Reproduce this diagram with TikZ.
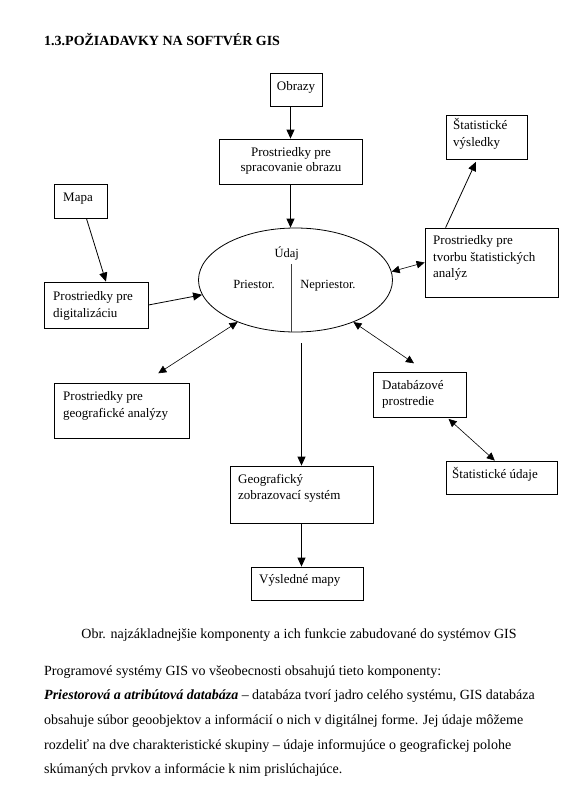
\documentclass[tikz,border=0pt]{standalone}
\usepackage{fontspec}
\setmainfont{Liberation Serif}
\usetikzlibrary{arrows.meta,calc,fit,shapes.geometric}
\begin{document}
\begin{tikzpicture}[x=1pt,y=-1pt,
  box/.style={draw, line width=0.8pt, inner sep=0pt, rectangle},
  lbl/.style={font=\fontsize{13}{16.5}\selectfont, inner sep=0pt, anchor=base west, align=left},
  elbl/.style={font=\fontsize{12.5}{15}\selectfont, inner sep=0pt, anchor=base},
  arr/.style={line width=0.8pt, -{Triangle[length=9pt,width=8pt]}},
  darr/.style={line width=0.6pt, {Triangle[length=8pt,width=7.5pt]}-{Triangle[length=8pt,width=7.5pt]}},
  divline/.style={line width=0.9pt, black!75}
]
\useasboundingbox (0,0) rectangle (581,790);
\fill[white] (0,0) rectangle (581,790);

% title
\node[anchor=base west, inner sep=0pt, font=\fontsize{14}{17}\selectfont\bfseries] (title) at (44,45) {1.3.POŽIADAVKY NA SOFTVÉR GIS};

% boxes
\node[box, fit={(270,73) (322,106)}] (obr) {};
\node[box, fit={(219,139) (362,184)}] (spr) {};
\node[box, fit={(446,115) (527,159)}] (svys) {};
\node[box, fit={(54,184) (107,218)}] (mapa) {};
\node[box, fit={(425,228) (558,297)}] (tvor) {};
\node[box, fit={(44,282) (148,328)}] (dig) {};
\node[box, fit={(54,383) (189,438)}] (gan) {};
\node[box, fit={(373,372) (466,417)}] (dbz) {};
\node[box, fit={(446,461) (557,494)}] (sud) {};
\node[box, fit={(230,466) (373,523)}] (gzs) {};
\node[box, fit={(251,567) (363,600)}] (vm) {};

% ellipse
\node[draw, ellipse, line width=0.8pt, minimum width=194pt, minimum height=104pt, inner sep=0pt] (ell) at (295.5,280) {};
\coordinate (divtop) at (291,264);
\draw[divline] (divtop) -- (divtop |- ell.south);
\node[elbl] (udaj) at (286.7,257) {Údaj};
\node[elbl] (pri) at (254,288) {Priestor.};
\node[elbl] (npri) at (328,288) {Nepriestor.};

% labels (anchor base = baseline of the last line)
\node[lbl, anchor=base] (obrT) at (296,90) {Obrazy};
\node[lbl, anchor=base, align=center, font=\fontsize{13}{15}\selectfont] (sprT) at (291,171.7) {Prostriedky pre\\spracovanie obrazu};
\node[lbl, font=\fontsize{13}{17.4}\selectfont] (svysT) at (453,146.4) {Štatistické\\výsledky};
\node[lbl] (mapaT) at (63,201.7) {Mapa};
\node[lbl] (tvorT) at (433,277.5) {Prostriedky pre\\tvorbu štatistických\\analýz};
\node[lbl] (digT) at (53,317) {Prostriedky pre\\digitalizáciu};
\node[lbl] (ganT) at (63,417) {Prostriedky pre\\geografické analýzy};
\node[lbl] (dbzT) at (382,405.5) {Databázové\\prostredie};
\node[lbl] (sudT) at (452,478.3) {Štatistické údaje};
\node[lbl] (gzsT) at (238,499.8) {Geografický\\zobrazovací systém};
\node[lbl] (vmT) at (259,583.3) {Výsledné mapy};

% free ends
\coordinate (ganEnd) at (158.3,373.3);
\coordinate (dbzEnd) at (414,363.3);
\coordinate (gzsStart) at (301.5,343.3);

% connectors
\draw[arr] (obr.south -| spr.south) -- (spr.north);
\draw[arr] (spr.south) -- (spr.south |- ell.north);
\draw[arr] ($(mapa.south west)!0.61!(mapa.south east)$) -- ($(dig.north west)!0.595!(dig.north east)$);
\draw[arr] (dig.east) -- (ell.189);
\draw[darr] (ell.216) -- (ganEnd);
\draw[darr] (ell.5) -- (tvor.west);
\draw[arr] ($(tvor.north west)!0.157!(tvor.north east)$) -- ($(svys.south west)!0.37!(svys.south east)+(0,2.5)$);
\draw[darr] (ell.-36) -- (dbzEnd);
\draw[darr] ($(dbz.south west)!0.81!(dbz.south east)+(0,1.5)$) -- ($(sud.north west)!0.44!(sud.north east)$);
\draw[arr] (gzsStart) -- (gzs.north);
\draw[arr] (gzs.south) -- (gzs.south |- vm.north);

% caption and body
\node[anchor=base, inner sep=0pt, font=\fontsize{14}{17}\selectfont] (cap) at (299,638) {Obr. najzákladnejšie komponenty a ich funkcie zabudované do systémov GIS};
\node[anchor=base west, inner sep=0pt, align=left, font=\fontsize{14}{24.7}\selectfont] (body) at (44,773.8) {Programové systémy GIS vo všeobecnosti obsahujú tieto komponenty:\\
\textbf{\textit{Priestorová a atribútová databáza}} – databáza tvorí jadro celého systému, GIS databáza\\
obsahuje súbor geoobjektov a informácií o nich v digitálnej forme. Jej údaje môžeme\\
rozdeliť na dve charakteristické skupiny – údaje informujúce o geografickej polohe\\
skúmaných prvkov a informácie k nim prislúchajúce.};
\end{tikzpicture}
\end{document}
